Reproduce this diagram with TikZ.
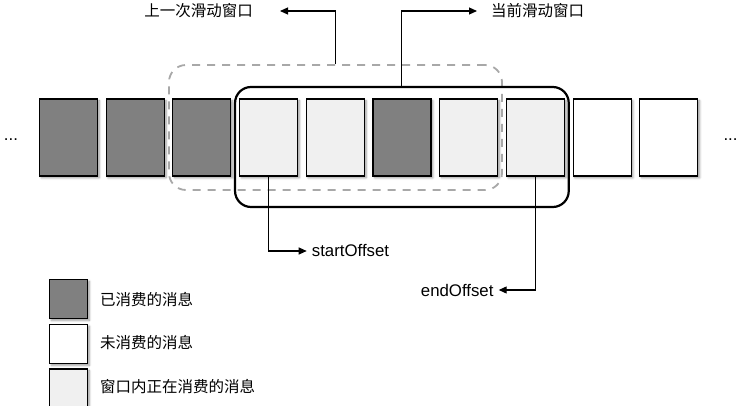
\documentclass[tikz,border=0pt]{standalone}
\usepackage{fontspec}
\setmainfont{Liberation Sans}
\newfontfamily\cjk{Noto Sans CJK SC}
\usetikzlibrary{arrows.meta,shadows.blur}
\definecolor{consumed}{HTML}{808080}
\definecolor{inwindow}{HTML}{F0F0F0}
\definecolor{prevwin}{HTML}{A8A8A8}
\begin{document}
\begin{tikzpicture}[x=1pt,y=-1pt,
  msgshadow/.style={blur shadow={shadow xshift=1.8pt, shadow yshift=-1.8pt,
      shadow blur radius=2.2pt, shadow blur steps=6, shadow opacity=40}},
  msg/.style={draw=black, line width=1.1pt, minimum width=58pt,
      minimum height=77pt, inner sep=0pt, msgshadow},
  keybox/.style={draw=black, line width=1.1pt, minimum width=38pt,
      minimum height=39pt, inner sep=0pt, msgshadow},
  prevbox/.style={draw=prevwin, line width=1.8pt, dash pattern=on 8pt off 7pt,
      rounded corners=17pt, minimum width=333pt, minimum height=125pt, inner sep=0pt},
  curbox/.style={draw=black, line width=2.2pt, rounded corners=16pt,
      minimum width=333.7pt, minimum height=120pt, inner sep=0pt},
  conn/.style={draw=black, line width=1.1pt, -{Triangle[length=8pt,width=7pt]}},
  cjklabel/.style={inner sep=0pt, font=\cjk\fontsize{15.5}{18}\selectfont},
  txtlabel/.style={inner sep=0pt, font=\fontsize{16.8}{19}\selectfont}]
\useasboundingbox (0,0) rectangle (745,406);

% the message queue
\foreach \f [count=\i from 0] in
  {consumed,consumed,consumed,inwindow,inwindow,consumed,inwindow,inwindow,white,white}
  \node[msg, fill=\f] (m\i) at (68.5+66.7*\i,137.5) {};

\node[txtlabel] (dotsL) at (11,140) {...};
\node[txtlabel] (dotsR) at (730.5,140) {...};

% previous and current windows
\node[prevbox] (prev) at (335.5,127.5) {};
\node[curbox] (cur) at (401.9,147) {};

% window labels
\node[cjklabel, anchor=east] (prevlabel) at (253,11) {上一次滑动窗口};
\node[cjklabel, anchor=west] (curlabel) at (491,11) {当前滑动窗口};
\draw[conn] (prev.north) |- ([xshift=27pt]prevlabel.east);
\draw[conn] (cur.north) |- ([xshift=-14pt]curlabel.west);

% offsets
\node[txtlabel, anchor=west] (startlabel) at (311.7,251) {startOffset};
\node[txtlabel, anchor=east] (endlabel) at (493.7,290) {endOffset};
\draw[conn] (m3.south) |- ([xshift=-5pt]startlabel.west);
\draw[conn] (m7.south) |- ([xshift=5pt]endlabel.east);

% legend
\node[keybox, fill=consumed] (key1) at (68.5,299) {};
\node[keybox, fill=white] (key2) at (68.5,344) {};
\node[keybox, fill=inwindow] (key3) at (68.5,388.5) {};
\node[cjklabel, anchor=west] (keylabel1) at (100,299.7) {已消费的消息};
\node[cjklabel, anchor=west] (keylabel2) at (100,343) {未消费的消息};
\node[cjklabel, anchor=west] (keylabel3) at (100,386.3) {窗口内正在消费的消息};
\end{tikzpicture}
\end{document}
